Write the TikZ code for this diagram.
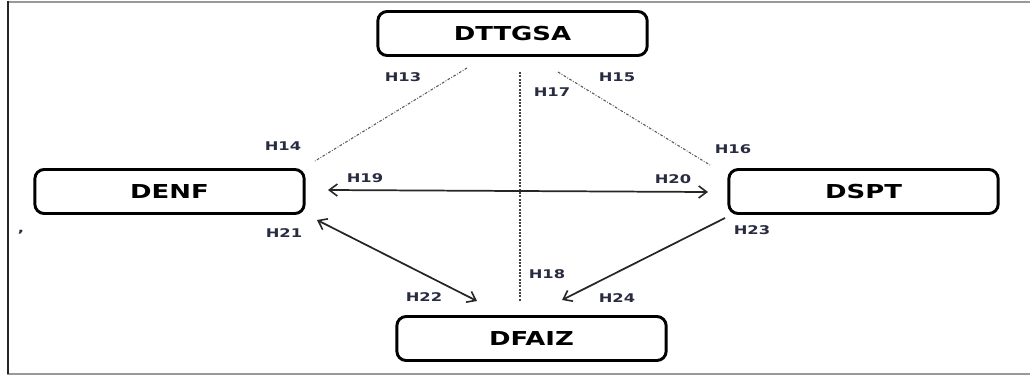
\documentclass[tikz,border=0pt]{standalone}
\usepackage{fontspec}
\usepackage{tikz}
\usetikzlibrary{arrows.meta}
\newfontfamily\boxfont{DejaVu Sans}[FakeStretch=1.35]
\newfontfamily\tagfont{DejaVu Sans}[FakeStretch=1.36]
\definecolor{tagcol}{RGB}{40,44,64}

\begin{document}
\begin{tikzpicture}[x=0.75pt,y=-0.75pt,>={Straight Barb[length=6pt,width=9pt,line width=1.2pt]},
                    box node/.style={rectangle,rounded corners=7pt,draw,line width=2.2pt,
                      minimum width=202pt,minimum height=33pt,inner sep=0pt,
                      font=\boxfont\bfseries\fontsize{14.4}{16}\selectfont},
                    tag node/.style={inner sep=0pt,text=tagcol,
                      font=\tagfont\bfseries\fontsize{9}{10}\selectfont},
                    link/.style={line width=1.3pt,draw=black!85},
                    dotline/.style={line width=0.8pt,draw=black!65,
                      dash pattern=on 2pt off 1.2pt on 0.6pt off 1.2pt}]
  \useasboundingbox (0,0) rectangle (1030,379);

  % frame
  \draw[line width=1.5pt,black!40] (7,1.5) -- (1030,1.5);
  \draw[line width=1.5pt,black!40] (7,373.5) -- (1030,373.5);
  \draw[line width=1.5pt,black!85] (7.5,1) -- (7.5,374);

  % boxes
  \node[box node] (dttgsa) at (512.5,33.5) {DTTGSA};
  \node[box node] (denf) at (169.5,191.5) {DENF};
  \node[box node] (dspt) at (863.5,191.5) {DSPT};
  \node[box node] (dfaiz) at (531.5,338.5) {DFAIZ};

  % connector ends
  \coordinate (c13) at (467,68);
  \coordinate (c14) at (315,161);
  \coordinate (c15) at (558,72);
  \coordinate (c16) at (710,165);
  \coordinate (c17) at (520,72);
  \coordinate (c18) at (520,302);
  \coordinate (c19) at (328,190);
  \coordinate (c20) at (708,192);
  \coordinate (c21) at (317,220);
  \coordinate (c22) at (477,301);
  \coordinate (c23) at (725,218);
  \coordinate (c24) at (562,300);

  \draw[dotline] (c13) -- (c14);
  \draw[dotline] (c15) -- (c16);
  \draw[line width=0.8pt,black!75,dash pattern=on 1.5pt off 1pt] (c17) -- (c18);
  \draw[link,<->] (c19) -- (c20);
  \draw[link,<->] (c21) -- (c22);
  \draw[link,->] (c23) -- (c24);

  % labels
  \node[tag node] (h13) at (403,77) {H13};
  \node[tag node] (h14) at (283,146) {H14};
  \node[tag node] (h15) at (617,77) {H15};
  \node[tag node] (h16) at (733,149) {H16};
  \node[tag node] (h17) at (552,92) {H17};
  \node[tag node] (h18) at (547,274) {H18};
  \node[tag node] (h19) at (365,178.5) {H19};
  \node[tag node] (h20) at (673,179) {H20};
  \node[tag node] (h21) at (284,233) {H21};
  \node[tag node] (h22) at (424,297) {H22};
  \node[tag node] (h23) at (752,230) {H23};
  \node[tag node] (h24) at (617,298.5) {H24};
  \node[tag node] (mark) at (21,232) {,};
\end{tikzpicture}
\end{document}
